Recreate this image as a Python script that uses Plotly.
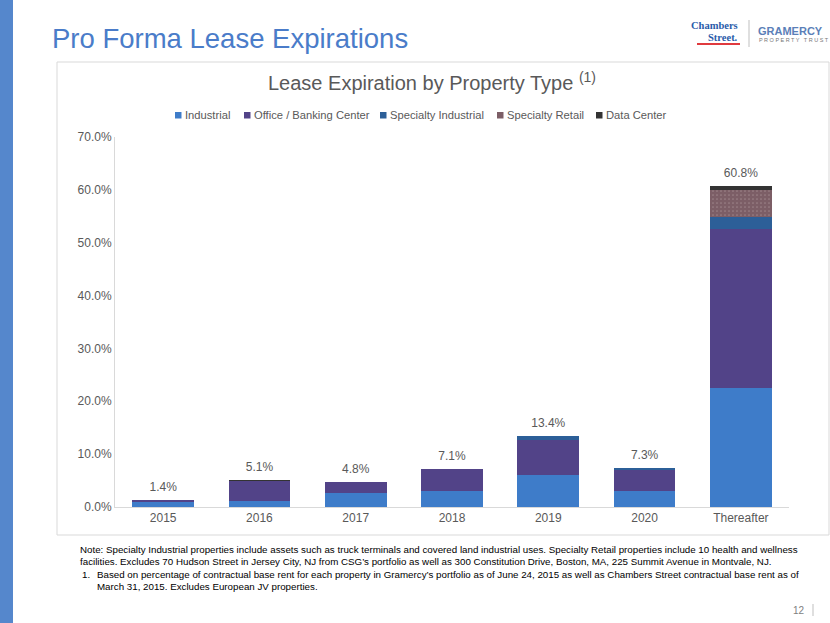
import plotly.graph_objects as go

categories = ["2015", "2016", "2017", "2018", "2019", "2020", "Thereafter"]
industrial = [0.9, 1.1, 2.6, 3.0, 6.0, 3.1, 22.6]
office = [0.5, 3.9, 2.2, 4.1, 6.7, 4.0, 30.0]
spec_industrial = [0.0, 0.0, 0.0, 0.0, 0.7, 0.2, 2.3]
spec_retail = [0.0, 0.0, 0.0, 0.0, 0.0, 0.0, 5.1]
data_center = [0.0, 0.1, 0.0, 0.0, 0.0, 0.0, 0.8]
totals = [1.4, 5.1, 4.8, 7.1, 13.4, 7.3, 60.8]
total_labels = ["1.4%", "5.1%", "4.8%", "7.1%", "13.4%", "7.3%", "60.8%"]
y_ticks = [0, 10, 20, 30, 40, 50, 60, 70]
series_names = ["Industrial", "Office / Banking Center", "Specialty Industrial",
                "Specialty Retail", "Data Center"]

W, H = 830, 623
L, R, T, B = 115, 789, 137, 507


def px(x):
    return (x - L) / (R - L)


def py(y):
    return (B - y) / (B - T)


FONT = "Liberation Sans, Arial, sans-serif"
NOTE_FONT = dict(family=FONT, size=9.75, color="#000000")
fig = go.Figure()

colors = ["#3E7CC9", "#524388", "#2C5F98", "#7C5E66", "#333333"]
values = [industrial, office, spec_industrial, spec_retail, data_center]
for name, vals, col in zip(series_names, values, colors):
    marker = dict(color=col, line=dict(width=0))
    if name == "Specialty Retail":
        marker["pattern"] = dict(shape=".", fgcolor="#B8A3A6", bgcolor=col, size=4, solidity=0.15)
    fig.add_trace(go.Bar(name=name, x=categories, y=vals, marker=marker,
                         hoverinfo="skip", showlegend=False))

# total labels above bars (invisible marker pushes the text a little higher)
fig.add_trace(go.Scatter(x=categories, y=totals, mode="markers+text", text=total_labels,
                         textposition="top center", showlegend=False, hoverinfo="skip",
                         marker=dict(size=8, opacity=0),
                         textfont=dict(family=FONT, size=12, color="#595959")))

annotations = []
shapes = []
# legend (manual, to match compact spacing)
legend_x = [175, 244, 380, 497, 596]
for lx, name, col in zip(legend_x, series_names, colors):
    shapes.append(dict(type="rect", xref="paper", yref="paper", x0=px(lx), x1=px(lx + 6.5),
                       y0=py(112), y1=py(118.5), fillcolor=col, line=dict(width=0)))
    annotations.append(dict(x=px(lx + 8), y=py(115), xref="paper", yref="paper",
                            xanchor="left", yanchor="middle", text=name, showarrow=False,
                            font=dict(family=FONT, size=11.2, color="#595959")))

annotations += [
    dict(x=px(50), y=py(38), xref="paper", yref="paper", xanchor="left", yanchor="middle",
         text="Pro Forma Lease Expirations", showarrow=False,
         font=dict(family=FONT, size=27.5, color="#4A7CC9")),
    dict(x=px(432), y=py(82), xref="paper", yref="paper", xanchor="center", yanchor="middle",
         text="Lease Expiration by Property Type <sup>(1)</sup>", showarrow=False,
         font=dict(family=FONT, size=20, color="#595959")),
    dict(x=px(78), y=py(549), xref="paper", yref="paper", xanchor="left", yanchor="middle",
         text="Note: Specialty Industrial properties include assets such as truck terminals and covered land industrial uses. Specialty Retail properties include 10 health and wellness",
         showarrow=False, font=NOTE_FONT),
    dict(x=px(78), y=py(561), xref="paper", yref="paper", xanchor="left", yanchor="middle",
         text="facilities. Excludes 70 Hudson Street in Jersey City, NJ from CSG’s portfolio as well as 300 Constitution Drive, Boston, MA, 225 Summit Avenue in Montvale, NJ.",
         showarrow=False, font=NOTE_FONT),
    dict(x=px(80), y=py(574), xref="paper", yref="paper", xanchor="left", yanchor="middle",
         text="1.", showarrow=False, font=NOTE_FONT),
    dict(x=px(95), y=py(574), xref="paper", yref="paper", xanchor="left", yanchor="middle",
         text="Based on percentage of contractual base rent for each property in Gramercy’s portfolio as of June 24, 2015 as well as Chambers Street contractual base rent as of",
         showarrow=False, font=NOTE_FONT),
    dict(x=px(95), y=py(586), xref="paper", yref="paper", xanchor="left", yanchor="middle",
         text="March 31, 2015. Excludes European JV properties.",
         showarrow=False, font=NOTE_FONT),
    dict(x=px(807), y=py(610), xref="paper", yref="paper", xanchor="right", yanchor="middle",
         text="12", showarrow=False, font=dict(family=FONT, size=10, color="#7F7F7F")),
    dict(x=px(740), y=py(26), xref="paper", yref="paper", xanchor="right", yanchor="middle",
         text="<b>Chambers</b>", showarrow=False,
         font=dict(family="Liberation Serif, Times New Roman, serif", size=10.5, color="#2A5CAA")),
    dict(x=px(740), y=py(37.5), xref="paper", yref="paper", xanchor="right", yanchor="middle",
         text="<b>Street.</b>", showarrow=False,
         font=dict(family="Liberation Serif, Times New Roman, serif", size=10.5, color="#2A5CAA")),
    dict(x=px(756), y=py(31), xref="paper", yref="paper", xanchor="left", yanchor="middle",
         text="<b>GRAMERCY</b>", showarrow=False,
         font=dict(family=FONT, size=11, color="#5B7FB8")),
    dict(x=px(757), y=py(40), xref="paper", yref="paper", xanchor="left", yanchor="middle",
         text="P R O P E R T Y   T R U S T", showarrow=False,
         font=dict(family=FONT, size=5.5, color="#777777")),
]

shapes += [
    dict(type="rect", xref="paper", yref="paper", x0=px(0), x1=px(13), y0=py(0), y1=py(H),
         fillcolor="#5587CC", line=dict(width=0), layer="below"),
    dict(type="rect", xref="paper", yref="paper", x0=px(57), x1=px(829), y0=py(62), y1=py(535),
         fillcolor="rgba(0,0,0,0)", line=dict(color="#D9D9D9", width=1), layer="below"),
    dict(type="line", xref="paper", yref="paper", x0=px(697), x1=px(740), y0=py(44), y1=py(44),
         line=dict(color="#E03A3E", width=2)),
    dict(type="line", xref="paper", yref="paper", x0=px(749), x1=px(749), y0=py(20), y1=py(47),
         line=dict(color="#BFBFBF", width=1)),
    dict(type="line", xref="paper", yref="paper", x0=px(813), x1=px(813), y0=py(604), y1=py(616),
         line=dict(color="#BFBFBF", width=1)),
]

fig.update_layout(
    width=W, height=H,
    margin=dict(l=L, r=W - R, t=T, b=H - B),
    barmode="stack", bargap=0.36,
    paper_bgcolor="white", plot_bgcolor="white",
    font=dict(family=FONT, size=12, color="#595959"),
    showlegend=False,
    xaxis=dict(type="category", range=[-0.5, len(categories) - 0.5], showline=True,
               linecolor="#D9D9D9", linewidth=1, ticks="", showgrid=False,
               tickfont=dict(size=12, color="#595959")),
    yaxis=dict(range=[0, 70], tickvals=y_ticks, ticktext=[f"{v:.1f}%" for v in y_ticks],
               showline=True, linecolor="#D9D9D9", linewidth=1, showgrid=False, zeroline=False,
               ticks="", tickfont=dict(size=12, color="#595959")),
    annotations=annotations, shapes=shapes,
)

fig.write_html("out.html", config={"displayModeBar": False},
               post_script="document.body.style.margin='0';")
